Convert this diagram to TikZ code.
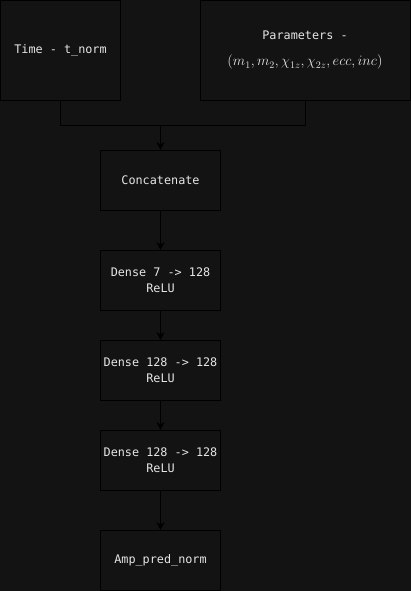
\documentclass[tikz,border=0pt]{standalone}
\usepackage{fontspec}
\setmonofont{DejaVu Sans Mono}
\usetikzlibrary{arrows.meta}
\definecolor{bgdark}{HTML}{131313}
\definecolor{txtlight}{HTML}{E6E6E6}
\tikzset{
    layer/.style={draw=black, line width=1pt, fill=bgdark, text=txtlight,
        minimum width=120pt, minimum height=60pt, align=center,
        font=\ttfamily\fontsize{11.8}{16}\selectfont},
    wire/.style={draw=black, line width=1pt},
    flow/.style={wire, -{Stealth[length=8pt,width=8pt]}}
}
\begin{document}
\begin{tikzpicture}[x=1pt,y=-1pt]
        \fill[bgdark] (0,0) rectangle (411,591);
        \useasboundingbox (0,0) rectangle (411,591);
        \node[layer, minimum width=120pt, minimum height=100pt] (time) at (60.5,50.5) {Time - t\_norm};
        \node[layer, minimum width=210pt, minimum height=100pt,
            font=\ttfamily\fontsize{11.8}{26}\selectfont] (params) at (305,50.5)
            {Parameters -\\{\fontsize{13.6}{26}\selectfont$(m_1, m_2, \chi_{1z}, \chi_{2z}, ecc, inc)$}};
        \node[layer] (concat) at (160.5,180.5) {Concatenate};
        \node[layer] (dense1) at (160.5,280.5) {Dense 7 -> 128\\ReLU};
        \node[layer] (dense2) at (160.5,370.5) {Dense 128 -> 128\\ReLU};
        \node[layer] (dense3) at (160.5,460.5) {Dense 128 -> 128\\ReLU};
        \node[layer] (amp) at (160.5,560.5) {Amp\_pred\_norm};
        \coordinate (join) at (160.5,125.5);
        \draw[wire] (time.south) |- (join) -| (params.south);
        \draw[flow] (join) -- (concat.north);
        \draw[flow] (concat) -- (dense1);
        \draw[flow] (dense1) -- (dense2);
        \draw[flow] (dense2) -- (dense3);
        \draw[flow] (dense3) -- (amp);
    \end{tikzpicture}
\end{document}
